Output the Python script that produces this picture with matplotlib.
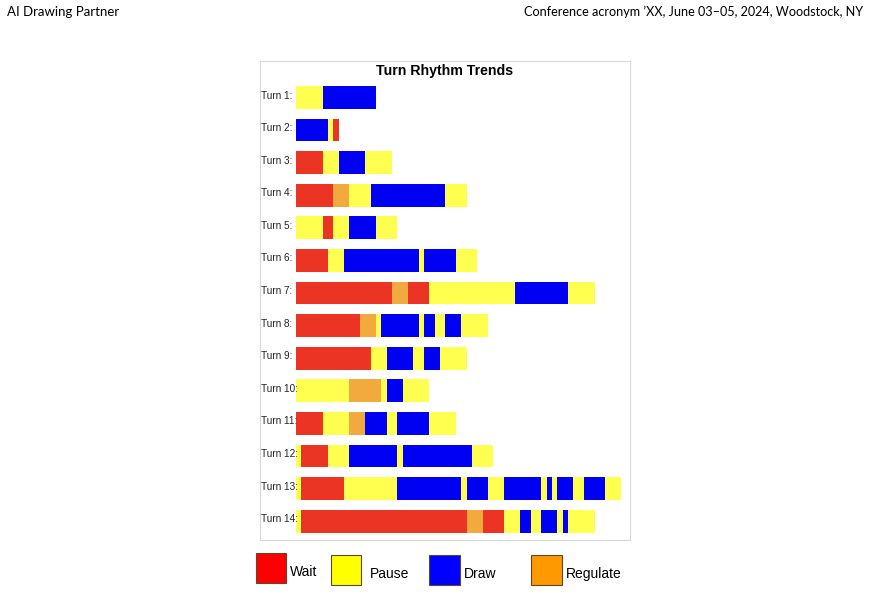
import numpy as np
import matplotlib.pyplot as plt
from matplotlib.patches import Rectangle

turn_labels = ["Turn %d:" % i for i in range(1, 15)]

# W = wait, P = pause, D = draw, R = regulate ; one unit per step
turn_kinds = [
    "PD",
    "DPW",
    "WPDP",
    "WRPDP",
    "PWPDP",
    "WPDPDP",
    "WRWPDP",
    "WRPDDPDPDP",
    "WPDPDP",
    "PRPDP",
    "WPRDPDP",
    "PWPDPDP",
    "PWPDPDPDDPDPDPDP",
    "PWRWPDPDPDP",
]
turn_units = [
    [5, 10],
    [6, 1, 1],
    [5, 3, 5, 5],
    [7, 3, 4, 14, 4],
    [5, 2, 3, 5, 4],
    [6, 3, 14, 1, 6, 4],
    [18, 3, 4, 16, 10, 5],
    [12, 3, 1, 3, 4, 1, 2, 2, 3, 5],
    [14, 3, 5, 2, 3, 5],
    [10, 6, 1, 3, 5],
    [5, 5, 3, 4, 2, 6, 5],
    [1, 5, 4, 9, 1, 13, 4],
    [1, 8, 10, 12, 1, 4, 3, 4, 3, 1, 1, 1, 3, 2, 4, 3],
    [1, 31, 3, 4, 3, 2, 2, 3, 1, 1, 5],
]

bar_colors = {"W": "#ec3425", "P": "#ffff50", "D": "#0000f2", "R": "#f2aa3e"}
legend_names = ["Wait", "Pause", "Draw", "Regulate"]
legend_colors = ["#ff0000", "#ffff00", "#0000ff", "#ff9900"]

W, H = 870, 592
fig = plt.figure(figsize=(W / 100, H / 100), dpi=100)

ax = fig.add_axes([260 / W, 1 - 540 / H, 370 / W, 479 / H])
for i, (kinds, units) in enumerate(zip(turn_kinds, turn_units)):
    lefts = np.concatenate([[0], np.cumsum(units)[:-1]])
    ax.barh([i] * len(units), units, left=lefts, height=0.7,
            color=[bar_colors[k] for k in kinds], linewidth=0)
    ax.text(0.003, i - 0.06, turn_labels[i], transform=ax.get_yaxis_transform(),
            ha="left", va="center", fontsize=7.2, family="Liberation Sans",
            color="#222222")

ax.set_xlim(-6.75, 62.6)
ax.set_ylim(13.58, -1.12)
ax.set_xticks([])
ax.set_yticks([])
for s in ax.spines.values():
    s.set_color("#d8d8d8")
    s.set_linewidth(0.8)
ax.text(0.5, 1 - 9.5 / 479, "Turn Rhythm Trends", transform=ax.transAxes,
        ha="center", va="center", fontsize=10.2, fontweight="bold",
        family="Liberation Sans")

# legend below the chart
sq_x = [256, 331, 429.5, 531.5]
sq_y = [552.5, 554.5, 554.5, 554.5]
txt_x = [290, 370, 464, 566]
txt_y = [572, 574, 574, 574]
for i in range(4):
    fig.add_artist(Rectangle((sq_x[i] / W, 1 - (sq_y[i] + 30.5) / H),
                             30.5 / W, 30.5 / H, transform=fig.transFigure,
                             facecolor=legend_colors[i], edgecolor="#5a4a2a",
                             linewidth=0.8))
    fig.text(txt_x[i] / W, 1 - txt_y[i] / H, legend_names[i], ha="left",
             va="center", fontsize=10, family="Liberation Sans")

fig.text(7 / W, 1 - 12 / H, "AI Drawing Partner", ha="left", va="center",
         fontsize=9.5, family="Lato")
fig.text(863 / W, 1 - 12 / H,
         "Conference acronym \u2019XX, June 03\u201305, 2024, Woodstock, NY",
         ha="right", va="center", fontsize=9.1, family="Lato")

fig.savefig("out.png", dpi=100)
